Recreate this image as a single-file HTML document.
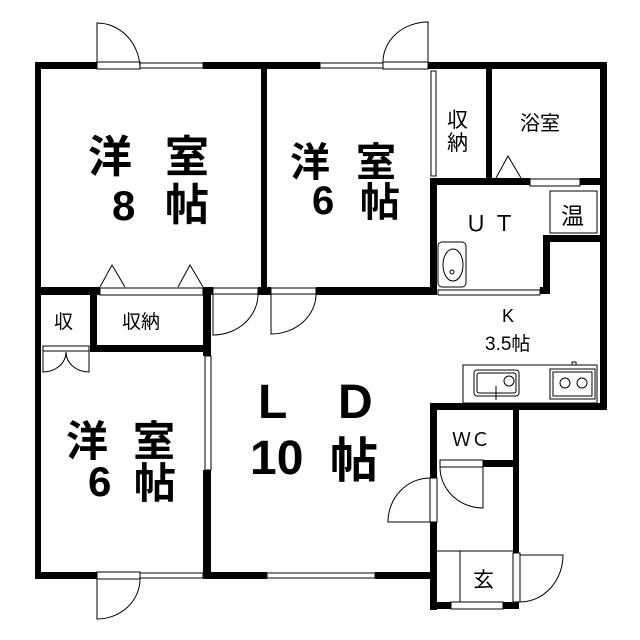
<!DOCTYPE html>
<html><head><meta charset="utf-8"><style>
html,body{margin:0;padding:0;background:#fff;}
svg{display:block}
text{font-family:"Liberation Sans","Noto Sans CJK JP",sans-serif;fill:#000;}
</style></head><body>
<svg width="640" height="640" viewBox="0 0 640 640" xmlns="http://www.w3.org/2000/svg">
<g fill="#000">
<rect x="35" y="62" width="62" height="7"/>
<rect x="203" y="62" width="117" height="7"/>
<rect x="428" y="62" width="179" height="7"/>
<rect x="35" y="62" width="6" height="517"/>
<rect x="600" y="62" width="7" height="348"/>
<rect x="261" y="62" width="6" height="233"/>
<rect x="35" y="287" width="65" height="8"/>
<rect x="203" y="287" width="10" height="8"/>
<rect x="258" y="287" width="13" height="8"/>
<rect x="316" y="287" width="121" height="8"/>
<rect x="430" y="178" width="7" height="117"/>
<rect x="486" y="62" width="6" height="122"/>
<rect x="430" y="178" width="100" height="7"/>
<rect x="580" y="178" width="27" height="7"/>
<rect x="543" y="235" width="64" height="7"/>
<rect x="543" y="235" width="7" height="58"/>
<rect x="540" y="287" width="10" height="7"/>
<rect x="90" y="295" width="7" height="57"/>
<rect x="90" y="345" width="121" height="7"/>
<rect x="203" y="287" width="8" height="69"/>
<rect x="203" y="470" width="8" height="109"/>
<rect x="35" y="572" width="62" height="7"/>
<rect x="203" y="572" width="64" height="7"/>
<rect x="375" y="572" width="62" height="7"/>
<rect x="430" y="403" width="177" height="7"/>
<rect x="430" y="403" width="7" height="75"/>
<rect x="430" y="522" width="7" height="88"/>
<rect x="513" y="403" width="6" height="150"/>
<rect x="483" y="460" width="36" height="7"/>
<rect x="430" y="602" width="21" height="7"/>
<rect x="503" y="602" width="16" height="7"/>
</g>
<g fill="#fff" stroke="#000" stroke-width="1">
<rect x="97" y="62" width="43" height="7"/>
<rect x="140" y="63" width="63" height="5"/>
<rect x="320" y="63" width="63" height="5"/>
<rect x="383" y="62" width="45" height="7"/>
<rect x="431" y="71" width="5" height="105"/>
<rect x="530" y="179" width="50" height="7"/>
<rect x="438" y="290" width="102" height="5"/>
<rect x="100" y="288" width="103" height="7"/>
<rect x="213" y="288" width="45" height="6"/>
<rect x="271" y="288" width="45" height="6"/>
<rect x="43" y="346" width="46" height="5"/>
<rect x="205" y="356" width="6" height="114"/>
<rect x="97" y="572" width="43" height="7"/>
<rect x="140" y="573" width="63" height="5"/>
<rect x="267" y="573" width="108" height="5"/>
<rect x="440" y="460" width="43" height="7"/>
<rect x="430" y="478" width="7" height="44"/>
<rect x="513" y="553" width="7" height="49"/>
<rect x="451" y="602" width="52" height="7"/>
<rect x="550" y="191" width="47" height="42"/>
<rect x="463" y="365" width="134" height="38"/>
<rect x="474" y="370" width="45" height="26" rx="3"/>
<rect x="477" y="373" width="39" height="20" rx="2"/>
<rect x="550" y="369" width="45" height="30"/>
<rect x="553" y="372" width="39" height="24"/>
<rect x="572" y="362" width="4" height="3"/>
<rect x="438" y="242" width="28" height="45" rx="4"/>
</g>
<g fill="none" stroke="#000" stroke-width="1">
<ellipse cx="453" cy="265" rx="10" ry="16"/>
<circle cx="452" cy="272" r="2"/>
<circle cx="509" cy="381" r="5"/>
<line x1="496" y1="386" x2="496" y2="400"/>
<circle cx="565" cy="383" r="5"/>
<circle cx="582" cy="383" r="5"/>
<path d="M97 69 V23 A43 46 0 0 1 140 69"/>
<path d="M428 62 V22 A45 40 0 0 0 383 62"/>
<path d="M213 294 V335 A45 41 0 0 0 258 294"/>
<path d="M271 294 V334 A45 40 0 0 0 316 294"/>
<path d="M97 579 V619 A43 40 0 0 0 140 579"/>
<path d="M430 478 A42 44 0 0 0 388 522 H430"/>
<path d="M440 467 A43 41 0 0 0 483 508 V467"/>
<path d="M520 555 H563 A43 47 0 0 1 520 602"/>
<path d="M43 351 V372 A23 20 0 0 0 66 352 A23 20 0 0 0 89 372 V351"/>
<path d="M100 287 L112 265 L125 287"/>
<path d="M178 287 L190 265 L203 287"/>
<path d="M496 178 L508 156 L521 178"/>
<line x1="437" y1="551" x2="513" y2="551"/>
<line x1="460" y1="551" x2="460" y2="602"/>
</g>
<g font-size="44" font-weight="bold">
<text x="88" y="172">洋</text><text x="165" y="172">室</text>
<text x="112" y="220" font-size="42">8</text><text x="165" y="220">帖</text>
<text x="290" y="176" font-size="40">洋</text><text x="356" y="176" font-size="40">室</text>
<text x="312" y="214" font-size="40">6</text><text x="360" y="216" font-size="40">帖</text>
<text x="66" y="456" font-size="42">洋</text><text x="133" y="456" font-size="42">室</text>
<text x="88" y="496" font-size="42">6</text><text x="134" y="498" font-size="42">帖</text>
<text x="258" y="418" font-size="48">L</text><text x="338" y="418" font-size="48">D</text>
<text x="250" y="474" font-size="48">10</text><text x="330" y="477" font-size="48">帖</text>
</g>
<g font-size="21">
<text x="447" y="127">収</text><text x="447" y="150">納</text>
<text x="520" y="130" font-size="20">浴室</text>
<text x="465" y="231" font-size="22">Ｕ Ｔ</text>
<text x="561" y="224" font-size="23">温</text>
<text x="502" y="322" font-size="18">K</text>
<text x="485" y="350" font-size="19">3.5帖</text>
<text x="452" y="446" font-size="19">ＷＣ</text>
<text x="473" y="587" font-size="21">玄</text>
<text x="54" y="328" font-size="19">収</text>
<text x="122" y="328" font-size="19">収納</text>
</g>
</svg>
</body></html>
